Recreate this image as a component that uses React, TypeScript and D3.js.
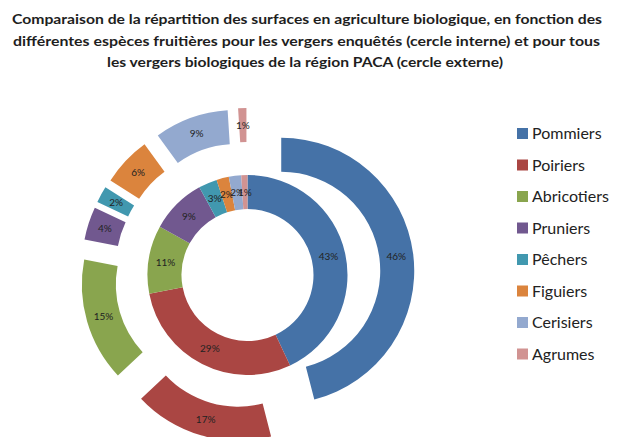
import React from "react";
import * as d3 from "d3";

// categories and the two series (percent of surface)
const especes = [
  "Pommiers",
  "Poiriers",
  "Abricotiers",
  "Pruniers",
  "Pêchers",
  "Figuiers",
  "Cerisiers",
  "Agrumes",
];
const vergersEnquetes = [43, 29, 11, 9, 3, 2, 2, 1]; // cercle interne
const vergersPaca = [46, 17, 15, 4, 2, 6, 9, 1]; // cercle externe
const couleurs = [
  "#4572A7",
  "#AA4643",
  "#89A54E",
  "#71588F",
  "#4198AF",
  "#DB843D",
  "#93A9CF",
  "#D19392",
];
const titre = [
  "Comparaison de la répartition des surfaces en agriculture biologique, en fonction des",
  "différentes espèces fruitières  pour les vergers enquêtés (cercle interne) et pour tous",
  "les vergers biologiques de la région PACA (cercle externe)",
];

const W = 618;
const H = 437;
const cx = 247.5;
const cy = 275;

export default function App() {
  var pie = d3
    .pie<number>()
    .sort(null)
    .value((d) => d);

  var innerArcs = pie(vergersEnquetes);
  var outerArcs = pie(vergersPaca);

  var arcIn = d3.arc<d3.PieArcDatum<number>>().innerRadius(66).outerRadius(100);
  var arcOut = d3.arc<d3.PieArcDatum<number>>().innerRadius(99).outerRadius(133);
  var explode = 34;

  var color = d3.scaleOrdinal<string, string>().domain(especes).range(couleurs);
  var legendY = d3
    .scalePoint<string>()
    .domain(especes)
    .range([133.5, 354]);

  var titleLines = [
    { y: 24, x: 307, len: 590 },
    { y: 46, x: 306.5, len: 587 },
    { y: 67, x: 305, len: 396 },
  ];

  return (
    <svg
      width={W}
      height={H}
      style={{ position: "absolute", left: 0, top: 0, background: "#fff" }}
      fontFamily="Lato, 'Open Sans', sans-serif"
    >
      {titre.map((t, i) => (
        <text
          key={i}
          x={titleLines[i].x}
          y={titleLines[i].y}
          textAnchor="middle"
          fontSize={14}
          fontWeight="bold"
          fill="#1e1e1e"
          textLength={titleLines[i].len}
          lengthAdjust="spacingAndGlyphs"
        >
          {t}
        </text>
      ))}

      <g transform={`translate(${cx},${cy})`}>
        {innerArcs.map((a, i) => {
          var c = arcIn.centroid(a);
          return (
            <g key={"in" + i}>
              <path d={arcIn(a) || ""} fill={color(especes[i])} />
              <text
                x={c[0]}
                y={c[1]}
                dy="0.35em"
                textAnchor="middle"
                fontSize={10}
                fill="#222"
              >
                {vergersEnquetes[i]}%
              </text>
            </g>
          );
        })}

        {outerArcs.map((a, i) => {
          var mid = (a.startAngle + a.endAngle) / 2;
          var dx = Math.sin(mid) * explode;
          var dy = -Math.cos(mid) * explode;
          var c = arcOut.centroid(a);
          return (
            <g key={"out" + i} transform={`translate(${dx},${dy})`}>
              <path d={arcOut(a) || ""} fill={color(especes[i])} />
              <text
                x={c[0]}
                y={c[1]}
                dy="0.35em"
                textAnchor="middle"
                fontSize={10}
                fill="#222"
              >
                {vergersPaca[i]}%
              </text>
            </g>
          );
        })}
      </g>

      {especes.map((e) => (
        <g key={e} transform={`translate(517,${legendY(e)})`}>
          <rect x={0} y={-5.5} width={11} height={11} fill={color(e)} />
          <text x={15} y={0} dy="0.36em" fontSize={16} fill="#222">
            {e}
          </text>
        </g>
      ))}
    </svg>
  );
}
